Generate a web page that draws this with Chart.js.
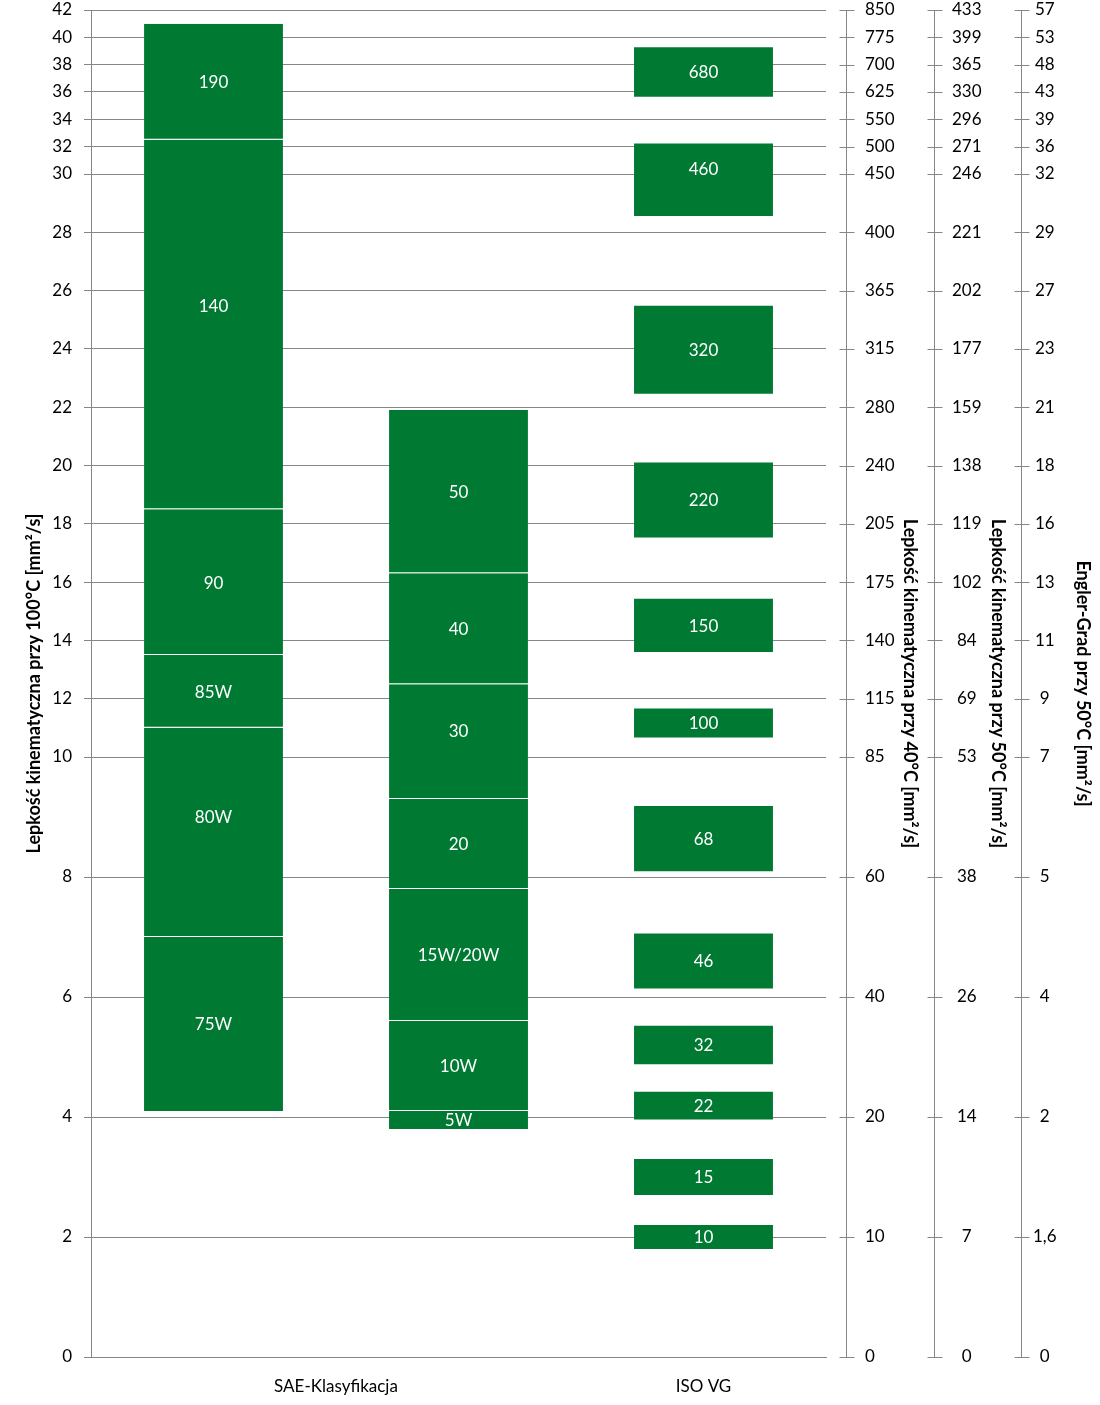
<!DOCTYPE html>
<html><head><meta charset="utf-8">
<script src="https://cdn.jsdelivr.net/npm/chart.js@4.4.1/dist/chart.umd.min.js"></script>
<style>html,body{margin:0;padding:0;background:#fff;}canvas{display:block;}</style>
</head><body>
<canvas id="c" width="1100" height="1405"></canvas>
<script>
// ---- tick labels of the four vertical axes (same tick positions) ----
const leftTicks   = [0,2,4,6,8,10,12,14,16,18,20,22,24,26,28,30,32,34,36,38,40,42];
const visc40Ticks = [0,10,20,40,60,85,115,140,175,205,240,280,315,365,400,450,500,550,625,700,775,850];
const visc50Ticks = [0,7,14,26,38,53,69,84,102,119,138,159,177,202,221,246,271,296,330,365,399,433];
const englerTicks = [0,1.6,2,4,5,7,9,11,13,16,18,21,23,27,29,32,36,39,43,48,53,57];

// ---- category groups on the x axis ----
const columnGroups = ['SAE-Klasyfikacja', 'ISO VG'];
const columnGroupCenters = [0.5, 2];

// ---- column 0: SAE gear oil grades (mm²/s at 100°C) ----
const saeGearGrades = ['75W','80W','85W','90','140','190'];
const saeGearMin    = [4.1, 7.0, 11.0, 13.5, 18.5, 32.5];
const saeGearMax    = [7.0, 11.0, 13.5, 18.5, 32.5, 41.0];

// ---- column 1: SAE engine oil grades (mm²/s at 100°C) ----
const saeEngineGrades = ['5W','10W','15W/20W','20','30','40','50'];
const saeEngineMin    = [3.8, 4.1, 5.6, 7.8, 9.3, 12.5, 16.3];
const saeEngineMax    = [4.1, 5.6, 7.8, 9.3, 12.5, 16.3, 21.9];

// ---- column 2: ISO VG grades (mm²/s at 40°C) ----
const isoGrades = ['10','15','22','32','46','68','100','150','220','320','460','680'];
const isoMin    = [9, 13.5, 19.8, 28.8, 41.4, 61.2, 95, 135, 198, 288, 414, 612];
const isoMax    = [11, 16.5, 24.2, 35.2, 50.6, 74.8, 110, 165, 242, 352, 506, 748];

// ---- left axis is piecewise linear (0-10, 10-30, 30-42) ----
const leftBreakValues    = [0, 10, 30, 42];
const leftBreakFractions = [0, 600/1347, 1183/1347, 1];

function interp(v, xs, ys) {
  const n = xs.length - 1;
  let i = 1;
  while (i < n && v > xs[i]) i++;
  return ys[i-1] + (v - xs[i-1]) * (ys[i] - ys[i-1]) / (xs[i] - xs[i-1]);
}
const tickFractions = leftTicks.map(v => interp(v, leftBreakValues, leftBreakFractions));
const fmt = v => String(v).replace('.', ',');

const scaleMaps = {
  y:       { knots: leftBreakValues, fracs: leftBreakFractions, ticks: leftTicks,   labels: leftTicks.map(fmt) },
  y40:     { knots: visc40Ticks,     fracs: tickFractions,      ticks: visc40Ticks, labels: visc40Ticks.map(fmt) },
  y50:     { knots: visc50Ticks,     fracs: tickFractions,      ticks: visc50Ticks, labels: visc50Ticks.map(fmt) },
  yEngler: { knots: englerTicks,     fracs: tickFractions,      ticks: englerTicks, labels: englerTicks.map(fmt) }
};

class PiecewiseScale extends Chart.LinearScale {
  determineDataLimits() {
    const k = scaleMaps[this.id].knots;
    this.min = k[0]; this.max = k[k.length - 1];
  }
  buildTicks() { return scaleMaps[this.id].ticks.map(v => ({ value: v })); }
  getPixelForValue(value) {
    if (value === null || value === undefined || isNaN(value)) return NaN;
    const m = scaleMaps[this.id];
    return this.getPixelForDecimal(interp(value, m.knots, m.fracs));
  }
  getValueForPixel(pixel) {
    const m = scaleMaps[this.id];
    return interp(this.getDecimalForPixel(pixel), m.fracs, m.knots);
  }
}
PiecewiseScale.id = 'piecewise';
PiecewiseScale.defaults = {};
Chart.register(PiecewiseScale);

// ---- datasets built from the arrays ----
const GREEN = '#007A33';
const datasets = [];
function addColumn(grades, mins, maxs, xPos, axisId, separators) {
  grades.forEach((g, i) => {
    datasets.push({
      label: g,
      data: [{ x: xPos, y: [mins[i], maxs[i]] }],
      yAxisID: axisId,
      backgroundColor: GREEN,
      borderColor: '#ffffff',
      borderSkipped: false,
      borderWidth: (separators && i > 0) ? { top: 0, right: 0, bottom: 1, left: 0 } : 0
    });
  });
}
addColumn(saeGearGrades, saeGearMin, saeGearMax, 0, 'y', true);
addColumn(saeEngineGrades, saeEngineMin, saeEngineMax, 1, 'y', true);
addColumn(isoGrades, isoMin, isoMax, 2, 'y40', false);

// ---- plugins ----
const FONT = 'Lato';
const GRID = '#868686';
// label of each bar at the midpoint of its range expressed in left-axis (100°C) units
const barLabelPlugin = {
  id: 'barLabels',
  afterDatasetsDraw(chart) {
    const ctx = chart.ctx;
    const yLeft = chart.scales.y;
    ctx.save();
    ctx.font = '17px ' + FONT;
    ctx.fillStyle = '#ffffff';
    ctx.textAlign = 'center';
    ctx.textBaseline = 'middle';
    chart.data.datasets.forEach((ds, di) => {
      chart.getDatasetMeta(di).data.forEach(bar => {
        const p = bar.getProps(['x', 'y', 'base'], true);
        const mid = (yLeft.getValueForPixel(p.y) + yLeft.getValueForPixel(p.base)) / 2;
        ctx.fillText(ds.label, p.x, yLeft.getPixelForValue(mid) + 1);
      });
    });
    ctx.restore();
  }
};
const rightAxisIds = ['y40', 'y50', 'yEngler'];
const rightAxisLineOffset = 20;
const axisLinePlugin = {
  id: 'rightAxisLines',
  afterDraw(chart) {
    const ctx = chart.ctx;
    ctx.save();
    ctx.strokeStyle = GRID;
    ctx.lineWidth = 1;
    rightAxisIds.forEach(id => {
      const s = chart.scales[id];
      const x = Math.round(s.left + rightAxisLineOffset) + 0.5;
      ctx.beginPath();
      ctx.moveTo(x, Math.round(s.top));
      ctx.lineTo(x, Math.round(s.bottom) + 1);
      s.ticks.forEach((t, i) => {
        const y = Math.round(s.getPixelForTick(i)) + 0.5;
        ctx.moveTo(x - 7, y);
        ctx.lineTo(x + 8, y);
      });
      ctx.stroke();
    });
    ctx.restore();
  }
};

function fixSize(prop, size) {
  return s => {
    s[prop] = size;
    s.paddingTop = 0; s.paddingBottom = 0; s.paddingLeft = 0; s.paddingRight = 0;
  };
}

const tickFont = { family: FONT, size: 17 };
const titleFont = { family: FONT, size: 18, weight: 'bold' };
function rightAxis(id, weight, width, title, titlePad, tickPad, align) {
  return {
    type: 'piecewise', position: 'right', weight: weight,
    afterFit: fixSize('width', width),
    grid: { display: false, drawTicks: false },
    border: { display: false },
    ticks: { font: tickFont, color: '#000', padding: tickPad, crossAlign: align, autoSkip: false,
             callback: (v, i) => scaleMaps[id].labels[i] },
    title: { display: true, text: title, color: '#000', font: titleFont, padding: { top: titlePad, bottom: 0 } }
  };
}

function draw() {
  new Chart(document.getElementById('c'), {
    type: 'bar',
    data: { datasets },
    options: {
      responsive: false,
      animation: false,
      events: [],
      grouped: false,
      barPercentage: 1,
      categoryPercentage: 0.567,
      layout: { autoPadding: false, padding: { top: 10, left: 0, right: 0, bottom: 0 } },
      plugins: { legend: { display: false }, tooltip: { enabled: false } },
      scales: {
        x: {
          type: 'linear', position: 'bottom', min: -0.5, max: 2.5, offset: false,
          afterFit: fixSize('height', 48),
          afterBuildTicks: s => { s.ticks = columnGroupCenters.map(v => ({ value: v })); },
          grid: { display: false, drawTicks: false },
          border: { display: true, color: GRID, width: 1 },
          ticks: { font: tickFont, color: '#000', padding: 19, maxRotation: 0, autoSkip: false,
                   callback: (v, i) => columnGroups[i] }
        },
        y: {
          type: 'piecewise', position: 'left',
          afterFit: fixSize('width', 91),
          grid: { color: GRID, lineWidth: 1, drawTicks: true, tickLength: 7, tickColor: GRID },
          border: { display: true, color: GRID, width: 1 },
          ticks: { font: tickFont, color: '#000', padding: 12, autoSkip: false,
                   callback: (v, i) => scaleMaps.y.labels[i] },
          title: { display: true, text: 'Lepkość kinematyczna przy 100°C [mm²/s]', color: '#000',
                   font: titleFont, padding: { top: 23, bottom: 0 } }
        },
        y40: rightAxis('y40', 0, 88, 'Lepkość kinematyczna przy 40°C [mm²/s]', -6.8, 39, 'near'),
        y50: rightAxis('y50', 1, 87, 'Lepkość kinematyczna przy 50°C [mm²/s]', -7.8, 38, 'center'),
        yEngler: rightAxis('yEngler', 2, 99, 'Engler-Grad przy 50°C [mm²/s]', 6.2, 32, 'center')
      }
    },
    plugins: [barLabelPlugin, axisLinePlugin]
  });
}
draw();
</script>
</body></html>
